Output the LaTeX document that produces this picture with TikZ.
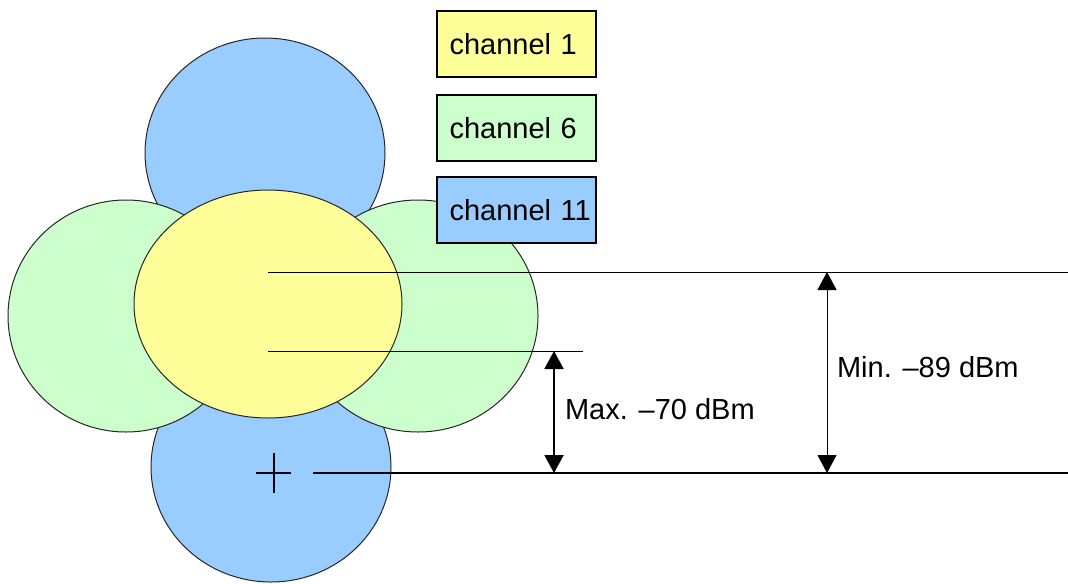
\documentclass[tikz,border=0pt]{standalone}
\usepackage{fontspec}
\setmainfont{Liberation Sans}
\usetikzlibrary{shapes.geometric,arrows.meta,positioning}

\definecolor{chyellow}{HTML}{FFFF99}
\definecolor{chgreen}{HTML}{CCFFCC}
\definecolor{chblue}{HTML}{99CCFF}

\begin{document}
\begin{tikzpicture}[
     x=0.5pt, y=-0.5pt,
     font=\fontsize{14.5}{17}\selectfont,
     cell/.style={ellipse, draw=black!85, line width=0.5pt, inner sep=0pt},
     key/.style={rectangle, draw, line width=1pt, minimum width=79.5pt, minimum height=33pt,
                 text width=67pt, align=left, inner xsep=6pt},
     level/.style={line width=0.5pt},
     span/.style={{Triangle[width=9.5pt,length=9pt]}-{Triangle[width=9.5pt,length=9pt]}}]

    \useasboundingbox (0,0) rectangle (1068,583);

    % cells, back to front
    \node[cell, fill=chblue, minimum width=120pt, minimum height=115pt] (north) at (265,153) {};
    \node[cell, fill=chblue, minimum width=120pt, minimum height=115pt] (south) at (271,467) {};
    \node[cell, fill=chgreen, minimum width=118pt, minimum height=116pt] (west) at (126,316) {};
    \node[cell, fill=chgreen, minimum width=120pt, minimum height=116pt] (east) at (418,316) {};
    \node[cell, fill=chyellow, minimum width=134pt, minimum height=114pt] (centre) at (268,304) {};

    % legend
    \node[key, fill=chyellow, anchor=north west] (ch1) at (436,10) {channel~1};
    \node[key, fill=chgreen] (ch6) [below=8pt of ch1] {channel~6};
    \node[key, fill=chblue] (ch11) [below=7pt of ch6] {channel~11};

    % signal levels
    \coordinate (minStart) at (268,272);
    \coordinate (minEnd) at (1068,272);
    \coordinate (maxStart) at (268,351);
    \coordinate (maxEnd) at (583,351);
    \coordinate (client) at (274,473);
    \coordinate (floorStart) at (313,473);
    \coordinate (floorEnd) at (1068,473);

    \draw[level] (minStart) -- (minEnd);
    \draw[level] (maxStart) -- (maxEnd);
    \draw[line width=1pt] (floorStart) -- (floorEnd);

    % receiver
    \draw[line width=1pt] (256,473) -- (291,473) (274,453) -- (274,493);

    % ranges
    \coordinate (maxTop) at (554,351);
    \coordinate (maxBot) at (554,473);
    \coordinate (minTop) at (827,272);
    \coordinate (minBot) at (827,473);

    \draw[span, line width=1pt] (maxTop) -- (maxBot);
    \draw[span, level] (minTop) -- (minBot);

    \node[anchor=west] (maxlabel) at (558,409) {Max. –70 dBm};
    \node[anchor=west] (minlabel) at (830,367) {Min. –89 dBm};

\end{tikzpicture}
\end{document}
